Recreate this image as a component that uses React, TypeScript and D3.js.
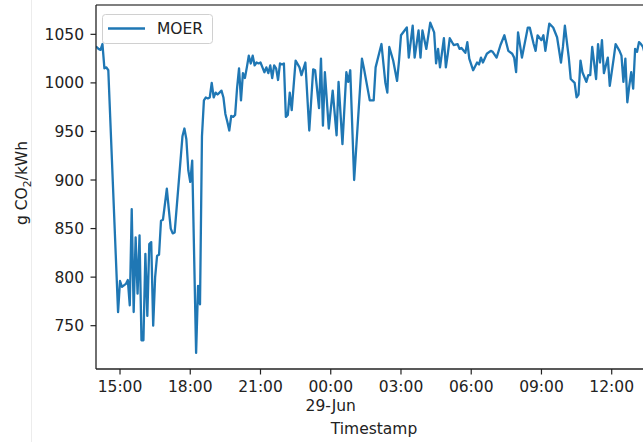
import React from "react";
import * as d3 from "d3";

const YEAR = "2022";
const seriesName = "MOER";
const yLabelMain = "g CO";
const yLabelSub = "2";
const yLabelTail = "/kWh";
const xLabel = "Timestamp";
const midnightLabel = "29-Jun";

const timestamps = [
  "06-28 14:00","06-28 14:05","06-28 14:10","06-28 14:15","06-28 14:20","06-28 14:25","06-28 14:30",
  "06-28 14:55","06-28 15:00","06-28 15:05","06-28 15:15","06-28 15:20","06-28 15:25","06-28 15:30",
  "06-28 15:35","06-28 15:40","06-28 15:45","06-28 15:50","06-28 15:55","06-28 16:00","06-28 16:05",
  "06-28 16:10","06-28 16:15","06-28 16:20","06-28 16:25","06-28 16:30","06-28 16:35","06-28 16:40",
  "06-28 16:45","06-28 16:50","06-28 17:00","06-28 17:05","06-28 17:10","06-28 17:15","06-28 17:20",
  "06-28 17:35","06-28 17:40","06-28 17:45","06-28 17:50","06-28 17:55","06-28 18:00","06-28 18:05",
  "06-28 18:15","06-28 18:20","06-28 18:25","06-28 18:30","06-28 18:35","06-28 18:40","06-28 18:45",
  "06-28 18:50","06-28 18:55","06-28 19:00","06-28 19:05","06-28 19:10","06-28 19:15","06-28 19:20",
  "06-28 19:25","06-28 19:30","06-28 19:35","06-28 19:40","06-28 19:45","06-28 19:50","06-28 19:55",
  "06-28 20:00","06-28 20:05","06-28 20:10","06-28 20:15","06-28 20:20","06-28 20:25","06-28 20:30",
  "06-28 20:35","06-28 20:40","06-28 20:45","06-28 20:50","06-28 20:55","06-28 21:00","06-28 21:05",
  "06-28 21:10","06-28 21:15","06-28 21:20","06-28 21:25","06-28 21:30","06-28 21:35","06-28 21:40",
  "06-28 21:45","06-28 21:50","06-28 21:55","06-28 22:00","06-28 22:05","06-28 22:10","06-28 22:15",
  "06-28 22:20","06-28 22:30","06-28 22:40","06-28 22:45","06-28 22:55","06-28 23:05","06-28 23:15",
  "06-28 23:20","06-28 23:30","06-28 23:35","06-28 23:40","06-28 23:45","06-28 23:55","06-29 00:05",
  "06-29 00:15","06-29 00:20","06-29 00:30","06-29 00:40","06-29 00:45","06-29 00:50","06-29 01:00",
  "06-29 01:20","06-29 01:25","06-29 01:40","06-29 01:50","06-29 01:55","06-29 02:10","06-29 02:20",
  "06-29 02:25","06-29 02:30","06-29 02:40","06-29 02:50","06-29 02:55","06-29 03:00","06-29 03:15",
  "06-29 03:20","06-29 03:30","06-29 03:35","06-29 03:45","06-29 03:50","06-29 03:55","06-29 04:05",
  "06-29 04:15","06-29 04:25","06-29 04:30","06-29 04:35","06-29 04:40","06-29 04:50","06-29 04:55",
  "06-29 05:00","06-29 05:05","06-29 05:15","06-29 05:25","06-29 05:30","06-29 05:35","06-29 05:45",
  "06-29 05:50","06-29 05:55","06-29 06:05","06-29 06:15","06-29 06:20","06-29 06:25","06-29 06:30",
  "06-29 06:40","06-29 06:50","06-29 06:55","06-29 07:05","06-29 07:15","06-29 07:25","06-29 07:35",
  "06-29 07:45","06-29 07:50","06-29 07:55","06-29 08:00","06-29 08:10","06-29 08:25","06-29 08:30",
  "06-29 08:40","06-29 08:45","06-29 08:50","06-29 09:00","06-29 09:05","06-29 09:10","06-29 09:20",
  "06-29 09:30","06-29 09:40","06-29 09:50","06-29 09:55","06-29 10:00","06-29 10:10","06-29 10:15",
  "06-29 10:25","06-29 10:30","06-29 10:35","06-29 10:40","06-29 10:45","06-29 10:55","06-29 11:00",
  "06-29 11:05","06-29 11:10","06-29 11:20","06-29 11:25","06-29 11:30","06-29 11:35","06-29 11:40",
  "06-29 11:50","06-29 11:55","06-29 12:05","06-29 12:10","06-29 12:20","06-29 12:25","06-29 12:30",
  "06-29 12:35","06-29 12:40","06-29 12:45","06-29 12:50","06-29 12:55","06-29 13:00","06-29 13:05",
  "06-29 13:10","06-29 13:15","06-29 13:20","06-29 13:25",
];

const moer = [
  1037,1035,1034,1040,1015,1016,1013,
  764,796,790,793,797,771,870,
  764,841,783,843,735,735,824,
  760,834,836,750,800,822,823,
  858,859,891,870,850,845,846,
  920,945,953,942,910,898,920,
  722,791,772,945,982,985,984,
  985,1000,985,990,988,990,992,
  985,968,960,951,966,965,967,
  995,1015,982,1010,1005,1016,1028,
  1020,1028,1018,1021,1020,1021,1016,
  1011,1016,1010,1018,1005,1018,1015,
  1003,1020,1019,1020,965,967,990,
  972,1023,1016,1008,1021,951,1014,
  1013,974,1025,956,1011,953,992,
  946,1001,937,1011,1001,1013,900,
  1025,1015,982,982,1016,1040,1000,
  990,1037,1023,1002,1023,1049,1057,
  1026,1059,1026,1054,1026,1054,1035,
  1062,1052,1020,1035,1016,1046,1016,
  1030,1046,1039,1040,1035,1036,1031,
  1042,1025,1013,1021,1019,1026,1021,
  1030,1033,1032,1026,1039,1049,1033,
  1030,1026,1011,1052,1026,1057,1057,
  1040,1033,1049,1044,1049,1033,1061,
  1057,1047,1021,1037,1059,1026,1004,
  1000,985,988,1023,1011,1001,1008,
  1008,1037,1004,1040,1021,1044,1010,
  1026,997,1025,1040,1033,1028,1001,
  1025,980,997,1011,994,1035,1032,
  1042,1040,1037,1030,
];

const yTicks = [750, 800, 850, 900, 950, 1000, 1050];
const xTickTimes = [
  "06-28 15:00","06-28 18:00","06-28 21:00","06-29 00:00",
  "06-29 03:00","06-29 06:00","06-29 09:00","06-29 12:00",
];

const parse = d3.timeParse("%Y-%m-%d %H:%M");
const toDate = (s: string) => parse(`${YEAR}-${s}`) as Date;
const fmt = d3.timeFormat("%H:%M");

export default function App() {
  const W = 643;
  const H = 442;
  const axLeft = 96;
  const axTop = 5;
  const axBottom = 369;
  const axRight = 643;
  const FONT = "DejaVu Sans, sans-serif";
  const fs = 15.5;

  const pxPerMin = 23.414 / 60;
  const t0 = toDate("06-28 14:00");
  const t1 = toDate("06-29 13:25");
  const x0 = 96.6;
  const x1 = x0 + ((+t1 - +t0) / 60000) * pxPerMin;
  const x = d3.scaleTime().domain([t0, t1]).range([x0, x1]);
  const y = d3.scaleLinear().domain([705.4, 1080.2]).range([axBottom, axTop]);

  const data = timestamps.map((t, i) => ({ t: toDate(t), v: moer[i] }));
  const line = d3
    .line<{ t: Date; v: number }>()
    .x((d) => x(d.t))
    .y((d) => y(d.v));

  return (
    <svg
      width={W}
      height={H}
      style={{ position: "absolute", left: 0, top: 0, background: "#fff" }}
      fontFamily={FONT}
    >
      <rect x={0} y={0} width={W} height={H} fill="#fff" />
      <line x1={31.5} x2={31.5} y1={0} y2={H} stroke="#ececec" strokeWidth={1} />
      <defs>
        <clipPath id="plotclip">
          <rect x={axLeft} y={axTop} width={axRight - axLeft} height={axBottom - axTop} />
        </clipPath>
      </defs>

      <path
        d={line(data) || ""}
        fill="none"
        stroke="#1f77b4"
        strokeWidth={2.3}
        strokeLinejoin="round"
        strokeLinecap="round"
        clipPath="url(#plotclip)"
      />

      {/* spines */}
      <line x1={axLeft} x2={axRight} y1={axTop} y2={axTop} stroke="#555" strokeWidth={1.4} />
      <line x1={axLeft} x2={axLeft} y1={axTop} y2={axBottom} stroke="#222" strokeWidth={1.3} />
      <line x1={axLeft} x2={axRight} y1={axBottom} y2={axBottom} stroke="#222" strokeWidth={1.3} />

      {/* y ticks */}
      {yTicks.map((v) => (
        <g key={v}>
          <line x1={axLeft - 5.5} x2={axLeft} y1={y(v)} y2={y(v)} stroke="#222" strokeWidth={1.2} />
          <text x={axLeft - 12} y={y(v)} dy="0.36em" textAnchor="end" fontSize={fs} fill="#222">
            {v}
          </text>
        </g>
      ))}

      {/* x ticks */}
      {xTickTimes.map((s) => {
        const d = toDate(s);
        const px = x(d);
        const isMidnight = d.getHours() === 0;
        return (
          <g key={s}>
            <line x1={px} x2={px} y1={axBottom} y2={axBottom + 5.5} stroke="#222" strokeWidth={1.2} />
            <text x={px} y={392} textAnchor="middle" fontSize={fs} fill="#222">
              {fmt(d)}
            </text>
            {isMidnight && (
              <text x={px} y={411} textAnchor="middle" fontSize={fs} fill="#222">
                {midnightLabel}
              </text>
            )}
          </g>
        );
      })}

      <text x={374} y={434} textAnchor="middle" fontSize={fs} fill="#222">
        {xLabel}
      </text>

      <text
        transform={`translate(27,183) rotate(-90)`}
        textAnchor="middle"
        fontSize={fs}
        fill="#222"
      >
        {yLabelMain}
        <tspan fontSize={fs * 0.7} dy={4}>
          {yLabelSub}
        </tspan>
        <tspan dy={-4}>{yLabelTail}</tspan>
      </text>

      {/* legend */}
      <rect x={102.5} y={14.5} width={110} height={29} rx={3} fill="#fff" fillOpacity={0.85} stroke="#d0d0d0" />
      <line x1={108} x2={145} y1={28.5} y2={28.5} stroke="#1f77b4" strokeWidth={2.3} />
      <text x={157} y={34} fontSize={fs} fill="#222">
        {seriesName}
      </text>
    </svg>
  );
}
